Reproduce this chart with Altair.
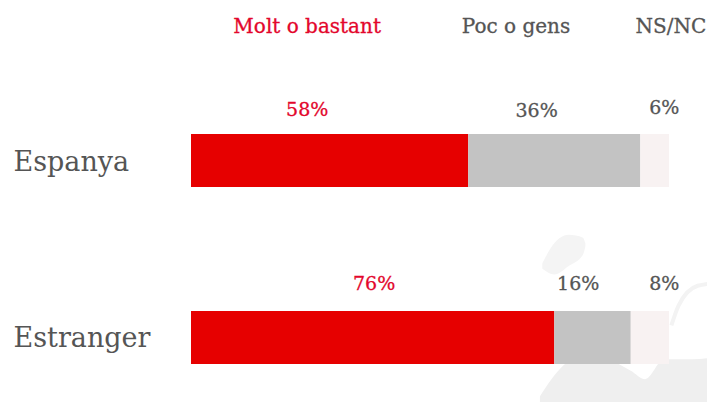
import altair as alt
import pandas as pd

rows = ["Espanya", "Estranger"]
series = ["Molt o bastant", "Poc o gens", "NS/NC"]
colors = ["#e60000", "#c3c3c3", "#f8f2f2"]
text_colors = ["#e3062c", "#555555", "#555555"]
values = {"Espanya": [58, 36, 6], "Estranger": [76, 16, 8]}
label_pos = {"Espanya": [24.3, 72.3, 99], "Estranger": [38.3, 81, 99]}
label_dy = {"Espanya": [-51, -50, -53], "Estranger": [-53, -53, -53]}
header_pos = [24.3, 68, 100.4]

# Faint map behind the chart, in the chart's own percent scales
land_x = [73, 78, 83, 92, 95, 99, 105, 110]
land_top = [-2, 9, 13, 7, 4, 11, 11, 12]
land_bottom = [-6, -6, -6, -6, -6, -6, -6, -6]
isle_x = [73.5, 76, 79, 82, 82.5]
isle_top = [45, 52, 55, 54, 52]
isle_bottom = [43, 41, 44, 48, 51]
coast_x = [100.5, 102, 106, 110]
coast_y = [23, 30, 37, 38]

bars = []
labels = []
for r in rows:
    start = 0
    for i, s in enumerate(series):
        v = values[r][i]
        bars.append({"row": r, "series": s, "start": start, "end": start + v})
        labels.append({"row": r, "series": s, "pos": label_pos[r][i], "text": f"{v}%",
                       "tc": text_colors[i], "dy": label_dy[r][i]})
        start += v
headers = [{"row": rows[0], "series": s, "pos": p, "tc": c}
           for s, p, c in zip(series, header_pos, text_colors)]

font = "DejaVu Serif"
y = alt.Y("row:N", sort=rows, title=None,
          scale=alt.Scale(paddingInner=0.70, paddingOuter=0.15),
          axis=alt.Axis(orient="left", domain=False, ticks=False, grid=False, labelFont=font, labelFontSize=27,
                        labelColor="#555555", labelPadding=0, labelLimit=300, labelAlign="left",
                        labelBaseline="middle", labelOffset=2, offset=178))
xscale = alt.Scale(domain=[0, 100], nice=False, zero=False)
mapy = alt.Scale(domain=[0, 100], nice=False, zero=False)
color = alt.Color("series:N", scale=alt.Scale(domain=series, range=colors), legend=None)
tcolor = alt.Color("tc:N", scale=None)
tstroke = alt.Stroke("tc:N", scale=None)


def blob(xs, top, bottom, fill):
    return alt.Chart(pd.DataFrame({"x": xs, "top": top, "bottom": bottom})).mark_area(
        color=fill, interpolate="monotone").encode(
        x=alt.X("x:Q", scale=xscale, axis=None),
        y=alt.Y("top:Q", scale=mapy, axis=None), y2="bottom:Q")


land = blob(land_x, land_top, land_bottom, "#efefef")
isle = blob(isle_x, isle_top, isle_bottom, "#f4f4f4")
coast = alt.Chart(pd.DataFrame({"x": coast_x, "y": coast_y})).mark_line(
    color="#f3f3f3", strokeWidth=4, interpolate="monotone").encode(
    x=alt.X("x:Q", scale=xscale, axis=None), y=alt.Y("y:Q", scale=mapy, axis=None))
background = alt.layer(land, isle, coast)

bar = alt.Chart(pd.DataFrame(bars)).mark_bar(cornerRadius=0).encode(
    x=alt.X("start:Q", scale=xscale, axis=None), x2="end:Q", y=y, color=color)

ldf = pd.DataFrame(labels)
lab = alt.layer(*[
    alt.Chart(ldf[ldf["dy"] == d]).mark_text(font=font, fontSize=19, dy=d, strokeWidth=0.3).encode(
        x=alt.X("pos:Q", scale=xscale, axis=None), y=alt.Y("row:N", sort=rows, title=None),
        text="text:N", color=tcolor, stroke=tstroke)
    for d in sorted(set(ldf["dy"]))
])

head = alt.Chart(pd.DataFrame(headers)).mark_text(font=font, fontSize=20, dy=-134, strokeWidth=0.3).encode(
    x=alt.X("pos:Q", scale=xscale, axis=None), y=alt.Y("row:N", sort=rows, title=None),
    text="series:N", color=tcolor, stroke=tstroke)

front = alt.layer(bar, lab, head)
chart = alt.layer(background, front).resolve_scale(y="independent").properties(
    width=478, height=283,
    autosize=alt.AutoSizeParams(type="none"),
    padding={"left": 183, "top": 99.5, "right": 38, "bottom": 11.5},
).configure_view(stroke=None)

chart.save("out.html", embed_options={"renderer": "svg", "actions": False})
